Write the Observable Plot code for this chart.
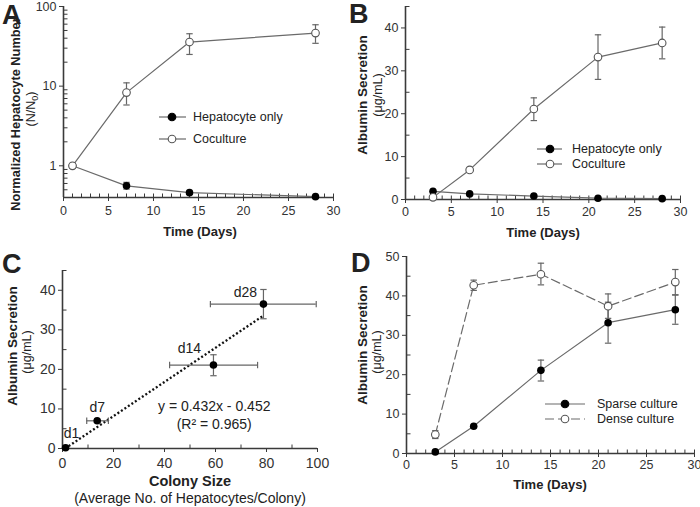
<!DOCTYPE html>
<html><head><meta charset="utf-8">
<script src="https://cdn.jsdelivr.net/npm/d3@7"></script>
<script src="https://cdn.jsdelivr.net/npm/@observablehq/plot@0.6"></script>
<style>
body{margin:0;background:#fff;}
#root{position:relative;width:700px;height:507px;overflow:hidden;font-family:"Liberation Sans",Arial,sans-serif;color:#222;background:#fff;}
.panel{position:absolute;}
.panel svg{max-width:none !important;}
.lbl{position:absolute;white-space:nowrap;transform:translate(-50%,-50%);font-size:13px;}
.rot{transform:translate(-50%,-50%) rotate(-90deg);}
.b{font-weight:bold;}
.letter{position:absolute;font-weight:bold;font-size:27px;line-height:1;}
</style></head><body><div id="root"></div><script>
// ---------- DATA ----------
// Panel A: normalized hepatocyte number (log scale)
const daysA = [1, 7, 14, 28];
const hepOnlyA = [1, 0.56, 0.46, 0.41];
const hepOnlyALo = [1, 0.51, 0.44, 0.40];
const hepOnlyAHi = [1, 0.62, 0.48, 0.42];
const coculA = [1, 8.3, 35.8, 46.4];
const coculALo = [1, 5.8, 25, 34.5];
const coculAHi = [1, 11, 45.5, 59];
// Panel B: albumin secretion
const daysB = [3, 7, 14, 21, 28];
const hepOnlyB = [1.9, 1.3, 0.8, 0.3, 0.2];
const coculB = [0.5, 6.9, 21.1, 33.2, 36.5];
const coculBLo = [0.3, 6.6, 18.4, 28.0, 32.8];
const coculBHi = [0.7, 7.2, 23.7, 38.4, 40.2];
// Panel C: albumin vs colony size
const dayLabels = ["d1", "d7", "d14", "d28"];
const colonySize = [1.2, 13.6, 59.2, 78.8];
const colonyLo = [1.2, 9.5, 42, 58];
const colonyHi = [1.2, 18, 76.5, 99.5];
const albuminC = [0.2, 7.0, 21.1, 36.5];
const albuminCLo = [0.2, 6.6, 18.4, 32.8];
const albuminCHi = [0.2, 7.4, 23.7, 40.2];
const fitSlope = 0.432, fitIntercept = -0.452;
const fitText = ["y = 0.432x - 0.452", "(R² = 0.965)"];
// Panel D: sparse vs dense culture
const daysD = [3, 7, 14, 21, 28];
const sparse = [0.4, 6.9, 21.1, 33.2, 36.5];
const sparseLo = [0.3, 6.6, 18.4, 28.0, 32.8];
const sparseHi = [0.5, 7.2, 23.7, 38.4, 40.2];
const dense = [4.8, 42.7, 45.5, 37.4, 43.5];
const denseLo = [3.8, 41.4, 42.8, 34.3, 40.3];
const denseHi = [5.8, 44.0, 48.3, 40.5, 46.7];
// tick values
const ticksXA = [0, 5, 10, 15, 20, 25, 30];
const ticksYA = [1, 10, 100];
const ticksYB = [0, 10, 20, 30, 40];
const ticksXC = [0, 20, 40, 60, 80, 100];
const ticksYC = [0, 10, 20, 30, 40];
const ticksYD = [0, 10, 20, 30, 40, 50];

// ---------- helpers ----------
const LC = "#6a6a6a", EC = "#666", AX = "#3a3a3a";
const hcap = {draw(ctx, size){const r = Math.sqrt(size / Math.PI); ctx.moveTo(-r, 0); ctx.lineTo(r, 0);}};
const vcap = {draw(ctx, size){const r = Math.sqrt(size / Math.PI); ctx.moveTo(0, -r); ctx.lineTo(0, r);}};
const zip = (keys, arrs) => arrs[0].map((_, i) => Object.fromEntries(keys.map((k, j) => [k, arrs[j][i]])));
function yErr(data, x, lo, hi){
  return [
    Plot.ruleX(data, {x, y1: lo, y2: hi, stroke: EC, strokeWidth: 1.2}),
    Plot.dot(data, {x, y: lo, symbol: hcap, r: 3.2, stroke: EC, fill: "none", strokeWidth: 1.2}),
    Plot.dot(data, {x, y: hi, symbol: hcap, r: 3.2, stroke: EC, fill: "none", strokeWidth: 1.2})
  ];
}
function xErr(data, y, lo, hi){
  return [
    Plot.ruleY(data, {y, x1: lo, x2: hi, stroke: EC, strokeWidth: 1.2}),
    Plot.dot(data, {x: lo, y, symbol: vcap, r: 3.2, stroke: EC, fill: "none", strokeWidth: 1.2}),
    Plot.dot(data, {x: hi, y, symbol: vcap, r: 3.2, stroke: EC, fill: "none", strokeWidth: 1.2})
  ];
}
function minorX(ticks, yBase){
  return Plot.dot(ticks, {x: d => d, y: () => yBase, symbol: vcap, r: 2, dy: -2, stroke: AX, strokeWidth: 1});
}
function minorY(ticks, xBase){
  return Plot.dot(ticks, {y: d => d, x: () => xBase, symbol: hcap, r: 2, dx: 2, stroke: AX, strokeWidth: 1});
}
const style = {fontFamily: '"Liberation Sans", Arial, sans-serif', fontSize: "12.5px", color: "#333", background: "transparent", overflow: "visible", maxWidth: "none"};
function axes(xt, yt, fs, pad){
  return [
    Plot.axisX({ticks: xt, tickSize: 4, tickPadding: pad ?? 4, label: null, stroke: AX, fontSize: fs || 12.5}),
    Plot.axisY({ticks: yt, tickSize: 4, tickPadding: 3, label: null, stroke: AX, fontSize: fs || 12.5, tickFormat: d => String(d)})
  ];
}
function legend(svg, rows, x0, x1, xm, xt){
  const g = d3.select(svg).append("g").attr("font-family", '"Liberation Sans", Arial, sans-serif')
    .attr("font-size", 12.5).attr("text-anchor", "start");
  for (const r of rows){
    g.append("line").attr("x1", x0).attr("x2", x1).attr("y1", r.y).attr("y2", r.y)
      .attr("stroke", LC).attr("stroke-width", 1.2).attr("stroke-dasharray", r.dash || null);
    g.append("circle").attr("cx", xm).attr("cy", r.y).attr("r", 3.8)
      .attr("fill", r.filled ? "#000" : "#fff").attr("stroke", r.filled ? "#000" : "#555").attr("stroke-width", 1.1);
    g.append("text").attr("x", xt).attr("y", r.y).attr("dy", "0.35em").attr("fill", "#222").attr("text-anchor", "start").text(r.text);
  }
}
const root = document.getElementById("root");
function place(node, left, top, w, h){
  const d = document.createElement("div"); d.className = "panel";
  d.style.left = left + "px"; d.style.top = top + "px"; d.style.width = w + "px"; d.style.height = h + "px";
  d.appendChild(node); root.appendChild(d);
}
function label(text, x, y, cls, extra){
  const d = document.createElement("div"); d.className = "lbl " + (cls || "");
  d.style.left = x + "px"; d.style.top = y + "px"; d.innerHTML = text;
  if (extra) Object.assign(d.style, extra);
  root.appendChild(d);
}

// ---------- Panel A ----------
const hepA = zip(["x","y","lo","hi"], [daysA, hepOnlyA, hepOnlyALo, hepOnlyAHi]);
const cocA = zip(["x","y","lo","hi"], [daysA, coculA, coculALo, coculAHi]);
const minorLog = [0.5,0.6,0.7,0.8,0.9,2,3,4,5,6,7,8,9,20,30,40,50,60,70,80,90];
const plotA = Plot.plot({
  width: 350, height: 250, marginLeft: 63, marginRight: 17, marginTop: 6, marginBottom: 53,
  style,
  x: {domain: [0, 30]}, y: {type: "log", domain: [0.4, 100]},
  marks: [
    ...axes(ticksXA, ticksYA, 12.5, 5),
    minorX(d3.range(0, 31), 0.4), minorY(minorLog, 0),
    Plot.ruleX([0], {stroke: AX, strokeWidth: 1.6}), Plot.ruleY([0.4], {stroke: AX, strokeWidth: 1.6}),
    ...yErr(hepA, "x", "lo", "hi"), ...yErr(cocA, "x", "lo", "hi"),
    Plot.line(hepA, {x: "x", y: "y", stroke: LC, strokeWidth: 1.2}),
    Plot.line(cocA, {x: "x", y: "y", stroke: LC, strokeWidth: 1.2}),
    Plot.dot(hepA, {x: "x", y: "y", r: 3.8, fill: "#000"}),
    Plot.dot(cocA, {x: "x", y: "y", r: 3.8, fill: "#fff", stroke: "#555", strokeWidth: 1.1})
  ]
});
legend(plotA, [{y: 117, filled: true, text: "Hepatocyte only"}, {y: 139, filled: false, text: "Coculture"}], 159, 186, 172, 193);
place(plotA, 0, 0, 350, 250);

// ---------- Panel B ----------
const hepB = zip(["x","y"], [daysB, hepOnlyB]);
const cocB = zip(["x","y","lo","hi"], [daysB, coculB, coculBLo, coculBHi]);
const plotB = Plot.plot({
  width: 350, height: 250, marginLeft: 55, marginRight: 20, marginTop: 6, marginBottom: 51,
  style,
  x: {domain: [0, 30]}, y: {domain: [0, 45]},
  marks: [
    ...axes(ticksXA, ticksYB, 12.5, 4),
    minorX(d3.range(0, 31), 0), minorY(d3.range(5, 46, 10), 0),
    Plot.ruleX([0], {stroke: AX, strokeWidth: 1.6}), Plot.ruleY([0], {stroke: AX, strokeWidth: 1.6}),
    ...yErr(cocB, "x", "lo", "hi"),
    Plot.line(cocB, {x: "x", y: "y", stroke: LC, strokeWidth: 1.2}),
    Plot.line(hepB, {x: "x", y: "y", stroke: LC, strokeWidth: 1.2}),
    Plot.dot(hepB, {x: "x", y: "y", r: 3.8, fill: "#000"}),
    Plot.dot(cocB, {x: "x", y: "y", r: 3.8, fill: "#fff", stroke: "#555", strokeWidth: 1.1})
  ]
});
legend(plotB, [{y: 149, filled: true, text: "Hepatocyte only"}, {y: 164, filled: false, text: "Coculture"}], 187, 212, 200, 222);
place(plotB, 350, 0, 350, 250);

// ---------- Panel C ----------
const ptsC = zip(["x","y","xlo","xhi","ylo","yhi","lab"], [colonySize, albuminC, colonyLo, colonyHi, albuminCLo, albuminCHi, dayLabels]);
const fitStart = -fitIntercept / fitSlope;
const fitLine = [fitStart, colonySize[colonySize.length - 1]].map(x => ({x, y: fitSlope * x + fitIntercept}));
const labelMark = (lab, dx, dy) => Plot.text(ptsC.filter(d => d.lab === lab), {x: "x", y: "y", text: "lab", dx, dy, fontSize: 14, fill: "#222"});
const plotC = Plot.plot({
  width: 350, height: 257, marginLeft: 62, marginRight: 33, marginTop: 20, marginBottom: 59,
  style,
  x: {domain: [0, 100]}, y: {domain: [0, 45]},
  marks: [
    Plot.axisX({ticks: ticksXC, tickSize: 4, tickPadding: 6, label: null, stroke: AX, fontSize: 14}),
    Plot.axisY({ticks: ticksYC, tickSize: 4, tickPadding: 3, label: null, stroke: AX, fontSize: 14}),
    minorX(d3.range(10, 101, 20), 0), minorY(d3.range(5, 46, 10), 0),
    Plot.ruleX([0], {stroke: AX, strokeWidth: 1.6}), Plot.ruleY([0], {stroke: AX, strokeWidth: 1.6}),
    Plot.line(fitLine, {x: "x", y: "y", stroke: "#111", strokeWidth: 2.3, strokeDasharray: "2,2.2", strokeLinecap: "butt"}),
    ...xErr(ptsC.slice(1), "y", "xlo", "xhi"), ...yErr(ptsC.slice(1), "x", "ylo", "yhi"),
    Plot.dot(ptsC, {x: "x", y: "y", r: 3.8, fill: "#000"}),
    labelMark("d1", 6, -14), labelMark("d7", 0, -13), labelMark("d14", -24, -17), labelMark("d28", -18, -12),
    Plot.text([fitText.join("\n")], {x: 59.5, y: 8.6, text: d => d, fontSize: 14, lineHeight: 1.3, fill: "#222"})
  ]
});
place(plotC, 0, 250, 350, 257);

// ---------- Panel D ----------
const spD = zip(["x","y","lo","hi"], [daysD, sparse, sparseLo, sparseHi]);
const deD = zip(["x","y","lo","hi"], [daysD, dense, denseLo, denseHi]);
const plotD = Plot.plot({
  width: 350, height: 257, marginLeft: 56, marginRight: 6, marginTop: 6, marginBottom: 54,
  style,
  x: {domain: [0, 30]}, y: {domain: [0, 50]},
  marks: [
    ...axes(ticksXA, ticksYD, 12.5, 3),
    minorX(d3.range(0, 31), 0), minorY(d3.range(5, 46, 10), 0),
    Plot.ruleX([0], {stroke: AX, strokeWidth: 1.6}), Plot.ruleY([0], {stroke: AX, strokeWidth: 1.6}),
    ...yErr(spD, "x", "lo", "hi"), ...yErr(deD, "x", "lo", "hi"),
    Plot.line(spD, {x: "x", y: "y", stroke: LC, strokeWidth: 1.2}),
    Plot.line(deD, {x: "x", y: "y", stroke: LC, strokeWidth: 1.2, strokeDasharray: "9,4"}),
    Plot.dot(spD, {x: "x", y: "y", r: 3.8, fill: "#000"}),
    Plot.dot(deD, {x: "x", y: "y", r: 3.8, fill: "#fff", stroke: "#555", strokeWidth: 1.1})
  ]
});
legend(plotD, [{y: 154, filled: true, text: "Sparse culture"}, {y: 169, filled: false, text: "Dense culture", dash: "9,4"}], 195, 235, 215, 247);
place(plotD, 350, 250, 350, 257);

// ---------- text ----------
const letter = (t, x, y) => { const d = document.createElement("div"); d.className = "letter"; d.textContent = t; d.style.left = x + "px"; d.style.top = y + "px"; root.appendChild(d); };
letter("A", 2, 2); letter("B", 349, 1); letter("C", 2, 251); letter("D", 351, 250);
label("Normalized Hepatocyte Number", 15, 114, "b rot", {fontSize: "12.8px"});
label("(N/N<sub style='font-size:9px'>0</sub>)", 32, 109, "rot", {fontSize: "12.5px"});
label("Time (Days)", 200, 231, "b");
label("Albumin Secretion", 362, 95, "b rot", {fontSize: "13.5px"});
label("(μg/mL)", 378, 95, "rot", {fontSize: "12.5px"});
label("Time (Days)", 543, 232, "b");
label("Albumin Secretion", 12, 346, "b rot", {fontSize: "13.5px"});
label("(μg/mL)", 27, 352, "rot", {fontSize: "12.5px"});
label("Colony Size", 190, 481, "b", {fontSize: "14.5px"});
label("(Average No. of Hepatocytes/Colony)", 190, 498, "", {fontSize: "14px"});
label("Albumin Secretion", 362, 345, "b rot", {fontSize: "13.5px"});
label("(μg/mL)", 377, 352, "rot", {fontSize: "12.5px"});
label("Time (Days)", 550, 484, "b");
</script></body></html>
